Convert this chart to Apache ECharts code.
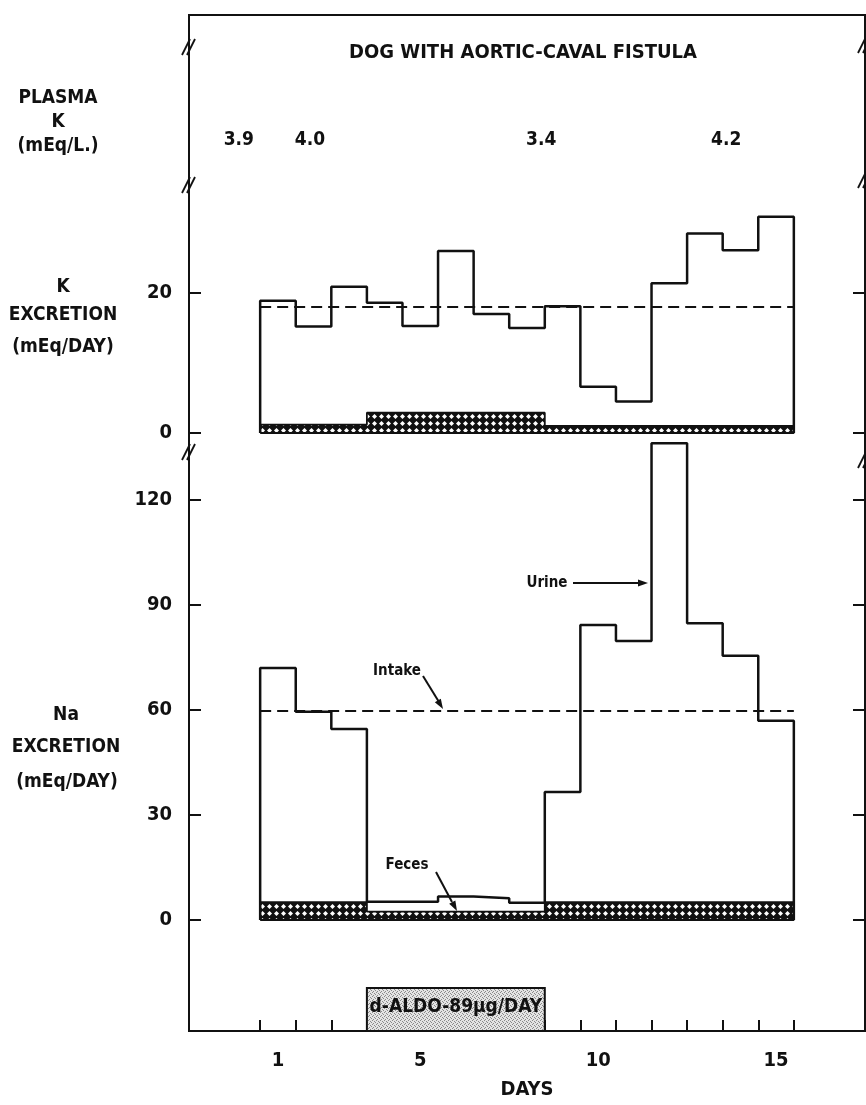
<!DOCTYPE html>
<html><head><meta charset="utf-8">
<script src="https://cdn.jsdelivr.net/npm/echarts@6/dist/echarts.min.js"></script>
<style>html,body{margin:0;padding:0;background:#fff}#c{width:866px;height:1105px}</style>
</head><body><div id="c"></div>
<script>
// ---------------- data ----------------
const days = [1,2,3,4,5,6,7,8,9,10,11,12,13,14,15];
const kUrine  = [18.9, 15.2, 20.9, 18.6, 15.3, 26.0, 17.0, 15.0, 18.1, 6.6, 4.5, 21.4, 28.5, 26.1, 30.9];
const kFeces  = [1.2, 1.2, 1.2, 2.9, 2.9, 2.9, 2.9, 2.9, 1.0, 1.0, 1.0, 1.0, 1.0, 1.0, 1.0];
const kIntake = 18;
const naUrine = [72, 59.5, 54.6, 5.2, 5.2, 6.7, 6.2, 4.9, 36.6, 84.3, 79.7, 136.2, 84.8, 75.5, 56.9];
const naFeces = [5.1, 5.1, 5.1, 2.4, 2.4, 2.4, 2.4, 2.4, 5.1, 5.1, 5.1, 5.1, 5.1, 5.1, 5.1];
const naIntake = 59.7;
const plasmaTimes = [-0.6, 1.4, 7.9, 13.1];
const plasmaK = ['3.9', '4.0', '3.4', '4.2'];
const aldoDays = [4, 8];
const aldoLabel = 'd-ALDO-89\u03bcg/DAY';
const xLabelDays = [1, 5, 10, 15];
const kTicks = [0, 20];
const naTicks = [0, 30, 60, 90, 120];

// ---------------- helpers ----------------
const FONT = '"DejaVu Sans Condensed", "DejaVu Sans", sans-serif';
const INK = '#111';
function stepPts(vals, close) {
  const p = [[0, 0]];
  vals.forEach((v, i) => p.push([i, v]));
  p.push([vals.length, vals[vals.length - 1]]);
  p.push([vals.length, 0]);
  if (close) p.push([0, 0]);
  return p;
}
function hatchCanvas() {
  const c = document.createElement('canvas'); c.width = 7; c.height = 7;
  const g = c.getContext('2d');
  g.fillStyle = INK; g.fillRect(0, 0, 7, 7);
  g.fillStyle = '#fff'; g.beginPath();
  g.moveTo(3.5, 1.0); g.lineTo(6.0, 3.5); g.lineTo(3.5, 6.0); g.lineTo(1.0, 3.5); g.closePath(); g.fill();
  return c;
}
function stippleCanvas() {
  const c = document.createElement('canvas'); c.width = 4; c.height = 4;
  const g = c.getContext('2d');
  g.fillStyle = '#e4e4e4'; g.fillRect(0, 0, 4, 4);
  g.fillStyle = '#8a8a8a';
  [[0,0],[2,1],[1,3],[3,2]].forEach(([x,y]) => g.fillRect(x, y, 1, 1));
  return c;
}
const hatch = { image: hatchCanvas(), repeat: 'repeat' };
const stipple = { image: stippleCanvas(), repeat: 'repeat' };

const X = { min: -2, max: 17 };
const GL = 189, GR = 1;

function hiddenX(gi) { return { type: 'value', gridIndex: gi, min: X.min, max: X.max, show: false }; }
function sideY(gi, min, max, ticks, pos, labels) {
  return {
    type: 'value', gridIndex: gi, min: min, max: max, position: pos,
    axisLine: { show: false, onZero: false }, splitLine: { show: false },
    axisTick: { show: true, inside: true, length: 12, customValues: ticks, lineStyle: { color: INK, width: 2 } },
    axisLabel: labels ? { show: true, customValues: ticks, margin: 17, color: INK, fontSize: 20, fontWeight: 'bold', fontFamily: FONT } : { show: false }
  };
}
function stepLine(name, xi, yi, vals, width, z) {
  return { name, type: 'line', xAxisIndex: xi, yAxisIndex: yi, step: 'end', data: stepPts(vals, false),
    symbol: 'none', lineStyle: { color: INK, width: width }, z: z, silent: true };
}
function band(name, xi, yi, vals) {
  return { name, type: 'line', xAxisIndex: xi, yAxisIndex: yi, step: 'end', data: stepPts(vals, true),
    symbol: 'none', lineStyle: { color: INK, width: 1.8 }, areaStyle: { color: hatch, opacity: 1 }, z: 2, silent: true };
}
function dashed(name, xi, yi, v) {
  return { name, type: 'line', xAxisIndex: xi, yAxisIndex: yi, data: [[0, v], [days.length, v]],
    symbol: 'none', lineStyle: { color: INK, width: 2, type: [11, 6] }, z: 4, silent: true };
}

// annotations
function txt(t, x, y, size, weight) {
  return { type: 'text', x: x, y: y, style: { text: t, fill: INK, font: (weight || 'bold') + ' ' + size + 'px ' + FONT, align: 'center', verticalAlign: 'middle' } };
}
function seg(x1, y1, x2, y2, w) {
  return { type: 'line', shape: { x1, y1, x2, y2 }, style: { stroke: INK, lineWidth: w || 2 } };
}
function arrowHead(tx, ty, fx, fy) {
  const dx = tx - fx, dy = ty - fy, L = Math.hypot(dx, dy), ux = dx / L, uy = dy / L;
  const bx = tx - 10 * ux, by = ty - 10 * uy, px = -uy * 3.5, py = ux * 3.5;
  return { type: 'polygon', shape: { points: [[tx, ty], [bx + px, by + py], [bx - px, by - py]] }, style: { fill: INK } };
}
function breakMark(x, y) {
  return [seg(x - 7, y + 8, x + 1, y - 8, 1.8), seg(x - 2, y + 8, x + 6, y - 8, 1.8)];
}

const graphics = [
  txt('DOG WITH AORTIC-CAVAL FISTULA', 523, 53, 20),
  txt('PLASMA', 58, 98, 19), txt('K', 58, 122, 19), txt('(mEq/L.)', 58, 146, 19),
  txt('K', 63, 287, 19), txt('EXCRETION', 63, 315, 19), txt('(mEq/DAY)', 63, 347, 19),
  txt('Na', 66, 715, 19), txt('EXCRETION', 66, 747, 19), txt('(mEq/DAY)', 67, 782, 19),
  txt('Urine', 547, 583, 15), seg(573, 583, 640, 583), arrowHead(648, 583, 573, 583),
  txt('Intake', 397, 671, 15), seg(423, 676, 439, 702), arrowHead(443, 709, 423, 676),
  txt('Feces', 407, 865, 15), seg(436, 872, 452, 902), arrowHead(457, 911, 436, 872)
].concat(breakMark(189, 47), breakMark(189, 185), breakMark(189, 452),
         breakMark(865, 45), breakMark(865, 180), breakMark(865, 460));

const option = {
  animation: false,
  backgroundColor: '#fff',
  grid: [
    { left: GL, right: GR, top: 15, bottom: 74, show: true, borderColor: INK, borderWidth: 2, backgroundColor: 'transparent' },
    { left: GL, right: GR, top: 188, height: 245 },
    { left: GL, right: GR, top: 430, height: 490 },
    { left: GL, right: GR, top: 128, height: 24 }
  ],
  xAxis: [
    { type: 'value', gridIndex: 0, min: X.min, max: X.max,
      axisLine: { show: true, onZero: false, lineStyle: { color: INK, width: 2 } }, splitLine: { show: false },
      axisTick: { show: true, inside: true, length: 11, customValues: days.map((d, i) => i).concat([days.length]), lineStyle: { color: INK, width: 2 } },
      axisLabel: { show: true, customValues: xLabelDays.map(d => d - 0.5), formatter: v => String(Math.round(v + 0.5)),
        margin: 20, color: INK, fontSize: 20, fontWeight: 'bold', fontFamily: FONT },
      name: 'DAYS', nameLocation: 'middle', nameGap: 49,
      nameTextStyle: { color: INK, fontSize: 20, fontWeight: 'bold', fontFamily: FONT } },
    hiddenX(1), hiddenX(2), hiddenX(3)
  ],
  yAxis: [
    { type: 'value', gridIndex: 0, min: 0, max: 1, show: false },
    sideY(1, 0, 35, kTicks, 'left', true),
    sideY(1, 0, 35, kTicks, 'right', false),
    sideY(2, 0, 140, naTicks, 'left', true),
    sideY(2, 0, 140, naTicks, 'right', false),
    { type: 'category', gridIndex: 3, data: ['K'], show: false }
  ],
  series: [
    { name: 'd-ALDO', type: 'custom', xAxisIndex: 0, yAxisIndex: 0, silent: true, z: 1,
      data: [[aldoDays[0] - 1, aldoDays[1]]], encode: { x: [0, 1] },
      renderItem: function (params, api) {
        const x0 = api.coord([api.value(0), 0])[0];
        const x1 = api.coord([api.value(1), 0])[0];
        const cs = params.coordSys; const yb = cs.y + cs.height;
        return { type: 'group', children: [
          { type: 'rect', shape: { x: x0, y: yb - 43, width: x1 - x0, height: 43 }, style: { fill: stipple, stroke: INK, lineWidth: 2 } },
          { type: 'text', style: { text: aldoLabel, x: (x0 + x1) / 2, y: yb - 24, align: 'center', verticalAlign: 'middle', font: 'bold 19px ' + FONT, fill: INK } }
        ] };
      } },
    band('K feces', 1, 1, kFeces),
    stepLine('K urine', 1, 1, kUrine, 2.5, 3),
    dashed('K intake', 1, 1, kIntake),
    band('Na feces', 2, 3, naFeces),
    stepLine('Na urine', 2, 3, naUrine, 2.5, 3),
    dashed('Na intake', 2, 3, naIntake),
    { name: 'Plasma K', type: 'scatter', xAxisIndex: 3, yAxisIndex: 5, symbol: 'circle', symbolSize: 1,
      itemStyle: { color: '#fff', opacity: 1 }, silent: true,
      data: plasmaTimes.map((t, i) => [t, 'K', plasmaK[i]]),
      label: { show: true, position: 'inside', formatter: p => p.value[2], color: INK, opacity: 1, fontSize: 19, fontWeight: 'bold', fontFamily: FONT } }
  ],
  graphic: graphics
};
const chart = echarts.init(document.getElementById('c'));
chart.setOption(option);
</script></body></html>
